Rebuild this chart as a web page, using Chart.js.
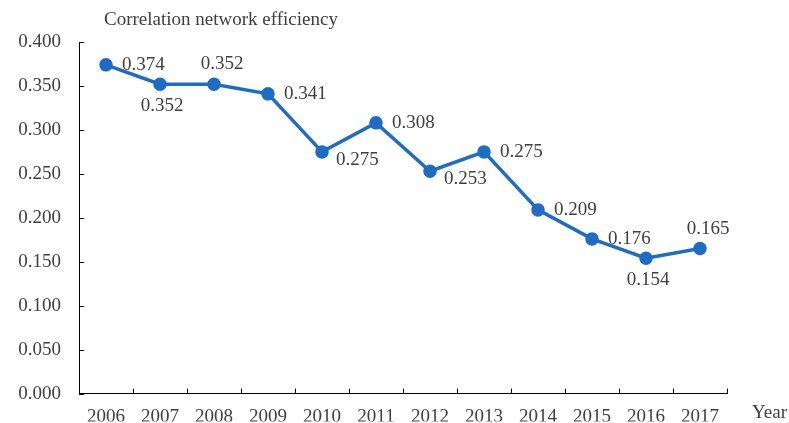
<!DOCTYPE html>
<html>
<head>
<meta charset="utf-8">
<script src="https://cdn.jsdelivr.net/npm/chart.js@4"></script>
<style>
  html, body { margin: 0; padding: 0; background: #fff; }
  #wrap { width: 789px; height: 423px; }
</style>
</head>
<body>
<div id="wrap"><canvas id="chart"></canvas></div>
<script>
// Data
const years = ['2006', '2007', '2008', '2009', '2010', '2011', '2012', '2013', '2014', '2015', '2016', '2017'];
const efficiency = [0.374, 0.352, 0.352, 0.341, 0.275, 0.308, 0.253, 0.275, 0.209, 0.176, 0.154, 0.165];
const yTicks = [0, 0.05, 0.1, 0.15, 0.2, 0.25, 0.3, 0.35, 0.4];

// where each value label sits relative to its point
const labelPlace = ['right', 'below', 'above', 'right', 'rightLow', 'right', 'rightLow', 'right', 'right', 'right', 'below', 'above'];

const FONT = '"Liberation Serif", "Times New Roman", serif';
const TEXT = '#404040';
const BLUE = '#1f6cc4';

const extras = {
    id: 'extras',
    afterDraw(chart) {
        const ctx = chart.ctx;
        const x = chart.scales.x;
        const y = chart.scales.y;
        const area = chart.chartArea;
        ctx.save();

        // inner tick marks: between categories on x, at each value on y
        ctx.strokeStyle = '#000';
        ctx.lineWidth = 1;
        const half = (x.getPixelForValue(1) - x.getPixelForValue(0)) / 2;
        for (let i = 1; i <= years.length; i++) {
            const px = Math.round(x.getPixelForValue(i) - half) + 0.5;
            ctx.beginPath();
            ctx.moveTo(px, area.bottom);
            ctx.lineTo(px, area.bottom - 5);
            ctx.stroke();
        }
        yTicks.forEach(v => {
            const py = Math.round(y.getPixelForValue(v)) + 0.5;
            ctx.beginPath();
            ctx.moveTo(area.left, py);
            ctx.lineTo(area.left + 5, py);
            ctx.stroke();
        });

        ctx.fillStyle = TEXT;
        ctx.font = '19px ' + FONT;

        // title and axis name
        ctx.textAlign = 'left';
        ctx.textBaseline = 'middle';
        ctx.fillText('Correlation network efficiency', 104, 20);
        ctx.fillText('Year', 752, 413);

        // value labels
        const meta = chart.getDatasetMeta(0);
        meta.data.forEach((pt, i) => {
            const txt = efficiency[i].toFixed(3);
            const place = labelPlace[i];
            if (place === 'right') {
                ctx.textAlign = 'left';
                ctx.fillText(txt, pt.x + 16, pt.y);
            } else if (place === 'rightLow') {
                ctx.textAlign = 'left';
                ctx.fillText(txt, pt.x + 14, pt.y + 8);
            } else if (place === 'below') {
                ctx.textAlign = 'center';
                ctx.fillText(txt, pt.x + 2, pt.y + 22);
            } else {
                ctx.textAlign = 'center';
                ctx.fillText(txt, pt.x + 8, pt.y - 20);
            }
        });
        ctx.restore();
    }
};

new Chart(document.getElementById('chart'), {
    type: 'line',
    data: {
        labels: years,
        datasets: [{
            data: efficiency,
            borderColor: BLUE,
            backgroundColor: BLUE,
            borderWidth: 3.5,
            pointRadius: 5,
            pointHoverRadius: 5,
            tension: 0
        }]
    },
    options: {
        responsive: true,
        maintainAspectRatio: false,
        animation: false,
        events: [],
        layout: { padding: { top: 42, right: 62, left: 0, bottom: 0 } },
        plugins: {
            legend: { display: false },
            tooltip: { enabled: false }
        },
        scales: {
            x: {
                offset: true,
                grid: { display: false, drawTicks: false },
                border: { display: true, color: '#000', width: 1 },
                ticks: {
                    color: TEXT,
                    font: { family: FONT, size: 19 },
                    padding: 12,
                    maxRotation: 0,
                    autoSkip: false
                },
                afterFit(scale) { scale.height = 28; }
            },
            y: {
                min: 0,
                max: 0.4,
                afterBuildTicks(scale) {
                    scale.ticks = yTicks.map(v => ({ value: v }));
                },
                grid: { display: false, drawTicks: false },
                border: { display: true, color: '#000', width: 1 },
                ticks: {
                    color: TEXT,
                    font: { family: FONT, size: 19 },
                    padding: 18,
                    callback: v => v.toFixed(3)
                },
                afterFit(scale) { scale.width = 79; }
            }
        }
    },
    plugins: [extras]
});
</script>
</body>
</html>
